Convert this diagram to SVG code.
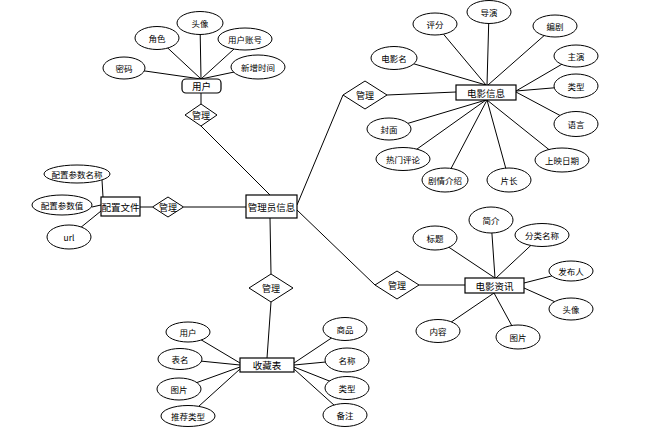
<svg xmlns="http://www.w3.org/2000/svg" width="657" height="436" viewBox="0 0 657 436">
<style>
  line { stroke: #000; stroke-width: 1; }
  .attr { fill: #fff; stroke: #000; stroke-width: 1; }
  .ent { fill: #fff; stroke: #000; stroke-width: 1.2; }
  .rel { fill: #fff; stroke: #000; stroke-width: 1; }
  text { font-family: "Noto Sans CJK SC", "Noto Sans", sans-serif; fill: #000; text-anchor: middle; dominant-baseline: central; }
  .ta { font-size: 8.5px; }
  .te { font-size: 9.5px; }
  .tr { font-size: 9px; }
</style>
<rect width="657" height="436" fill="#fff"/>
<g id="connectors">
  <!-- 用户 -->
  <line x1="124" y1="68" x2="201" y2="79"/>
  <line x1="157" y1="38" x2="201" y2="79"/>
  <line x1="200" y1="23" x2="201" y2="79"/>
  <line x1="245" y1="39" x2="201" y2="79"/>
  <line x1="258" y1="67" x2="201" y2="79"/>
  <line x1="201" y1="93" x2="201" y2="104"/>
  <line x1="201" y1="126" x2="270" y2="195"/>
  <!-- 配置文件 -->
  <line x1="102" y1="180" x2="103" y2="197"/>
  <line x1="92" y1="207" x2="101" y2="205"/>
  <line x1="69" y1="237" x2="101" y2="211"/>
  <line x1="140" y1="207" x2="152.5" y2="207"/>
  <line x1="183.5" y1="207" x2="246" y2="207"/>
  <!-- 电影信息 -->
  <line x1="297" y1="205" x2="343" y2="95"/>
  <line x1="387" y1="95" x2="456" y2="92"/>
  <line x1="394" y1="58" x2="486" y2="85"/>
  <line x1="435" y1="24" x2="486" y2="85"/>
  <line x1="489" y1="12" x2="487" y2="85"/>
  <line x1="555" y1="26" x2="488" y2="85"/>
  <line x1="576" y1="56" x2="516" y2="91"/>
  <line x1="576" y1="86" x2="516" y2="91"/>
  <line x1="576" y1="124" x2="516" y2="92"/>
  <line x1="389" y1="129" x2="486" y2="100"/>
  <line x1="403" y1="159" x2="486" y2="100"/>
  <line x1="445" y1="180" x2="487" y2="100"/>
  <line x1="509" y1="180" x2="487" y2="100"/>
  <line x1="562" y1="160" x2="487" y2="100"/>
  <!-- 电影资讯 -->
  <line x1="297" y1="210" x2="375" y2="285"/>
  <line x1="419" y1="285" x2="465" y2="285"/>
  <line x1="435" y1="238" x2="495" y2="278"/>
  <line x1="491" y1="220" x2="495" y2="278"/>
  <line x1="542" y1="235" x2="496" y2="278"/>
  <line x1="571" y1="271" x2="524" y2="283"/>
  <line x1="571" y1="309" x2="524" y2="288"/>
  <line x1="438" y1="331" x2="494" y2="293"/>
  <line x1="518" y1="337" x2="494" y2="293"/>
  <!-- 收藏表 -->
  <line x1="270" y1="218" x2="271" y2="274"/>
  <line x1="271" y1="302" x2="267" y2="358"/>
  <line x1="188" y1="332" x2="240" y2="363"/>
  <line x1="180" y1="359" x2="240" y2="365"/>
  <line x1="179" y1="389" x2="240" y2="367"/>
  <line x1="188" y1="416" x2="240" y2="369"/>
  <line x1="345" y1="329" x2="294" y2="363"/>
  <line x1="347" y1="360" x2="294" y2="365"/>
  <line x1="347" y1="388" x2="294" y2="367"/>
  <line x1="345" y1="415" x2="294" y2="369"/>
</g>

<!-- 用户 entity and attributes -->
<g id="user">
  <rect class="ent" x="182" y="79" width="39" height="14" rx="4"/>
  <text class="te" x="201.5" y="86">用户</text>
</g>
<g id="user-pwd"><ellipse class="attr" cx="124" cy="68" rx="21" ry="11"/><text class="ta" x="124" y="68">密码</text></g>
<g id="user-role"><ellipse class="attr" cx="157" cy="38" rx="22" ry="11.5"/><text class="ta" x="157" y="38">角色</text></g>
<g id="user-avatar"><ellipse class="attr" cx="200" cy="23" rx="23" ry="11.5"/><text class="ta" x="200" y="23">头像</text></g>
<g id="user-account"><ellipse class="attr" cx="245" cy="39" rx="27" ry="11"/><text class="ta" x="245" y="39">用户账号</text></g>
<g id="user-time"><ellipse class="attr" cx="258" cy="67" rx="27" ry="12"/><text class="ta" x="258" y="67">新增时间</text></g>
<g id="rel-user"><polygon class="rel" points="201,104 217,115 201,126 185,115"/><text class="tr" x="201" y="115">管理</text></g>

<!-- 配置文件 -->
<g id="config">
  <rect class="ent" x="101" y="197" width="39" height="19"/>
  <text class="te" x="120.5" y="206.5">配置文件</text>
</g>
<g id="config-name"><ellipse class="attr" cx="77" cy="174" rx="33" ry="9"/><text class="ta" x="77" y="174">配置参数名称</text></g>
<g id="config-value"><ellipse class="attr" cx="62" cy="205" rx="30" ry="10"/><text class="ta" x="62" y="205">配置参数值</text></g>
<g id="config-url"><ellipse class="attr" cx="69" cy="237" rx="22" ry="12"/><text class="ta" x="69" y="237">url</text></g>
<g id="rel-config"><polygon class="rel" points="168,197 183.5,207 168,217 152.5,207"/><text class="tr" x="168" y="207">管理</text></g>

<!-- 管理员信息 -->
<g id="admin">
  <rect class="ent" x="246" y="195" width="51" height="23"/>
  <text class="te" x="271.5" y="206.5">管理员信息</text>
</g>

<!-- 电影信息 -->
<g id="movie">
  <rect class="ent" x="456" y="85" width="60" height="15"/>
  <text class="te" x="486" y="92.5">电影信息</text>
</g>
<g id="rel-movie"><polygon class="rel" points="365,81 387,95 365,109 343,95"/><text class="tr" x="365" y="95">管理</text></g>
<g id="movie-name"><ellipse class="attr" cx="394" cy="58" rx="23" ry="11.5"/><text class="ta" x="394" y="58">电影名</text></g>
<g id="movie-score"><ellipse class="attr" cx="435" cy="24" rx="22" ry="11"/><text class="ta" x="435" y="24">评分</text></g>
<g id="movie-director"><ellipse class="attr" cx="489" cy="12" rx="22" ry="11.5"/><text class="ta" x="489" y="12">导演</text></g>
<g id="movie-writer"><ellipse class="attr" cx="555" cy="26" rx="22" ry="11"/><text class="ta" x="555" y="26">编剧</text></g>
<g id="movie-star"><ellipse class="attr" cx="576" cy="56" rx="22" ry="11"/><text class="ta" x="576" y="56">主演</text></g>
<g id="movie-type"><ellipse class="attr" cx="576" cy="86" rx="22" ry="12"/><text class="ta" x="576" y="86">类型</text></g>
<g id="movie-lang"><ellipse class="attr" cx="576" cy="124" rx="22" ry="12.5"/><text class="ta" x="576" y="124">语言</text></g>
<g id="movie-cover"><ellipse class="attr" cx="389" cy="129" rx="22" ry="11"/><text class="ta" x="389" y="129">封面</text></g>
<g id="movie-hot"><ellipse class="attr" cx="403" cy="159" rx="27" ry="11.5"/><text class="ta" x="403" y="159">热门评论</text></g>
<g id="movie-plot"><ellipse class="attr" cx="445" cy="180" rx="23" ry="12"/><text class="ta" x="445" y="180">剧情介绍</text></g>
<g id="movie-length"><ellipse class="attr" cx="509" cy="180" rx="22" ry="12"/><text class="ta" x="509" y="180">片长</text></g>
<g id="movie-date"><ellipse class="attr" cx="562" cy="160" rx="27" ry="12"/><text class="ta" x="562" y="160">上映日期</text></g>

<!-- 电影资讯 -->
<g id="news">
  <rect class="ent" x="465" y="278" width="59" height="15"/>
  <text class="te" x="494.5" y="285.5">电影资讯</text>
</g>
<g id="rel-news"><polygon class="rel" points="397,271 419,285 397,299 375,285"/><text class="tr" x="397" y="285">管理</text></g>
<g id="news-title"><ellipse class="attr" cx="435" cy="238" rx="22" ry="12"/><text class="ta" x="435" y="238">标题</text></g>
<g id="news-intro"><ellipse class="attr" cx="491" cy="220" rx="22" ry="13"/><text class="ta" x="491" y="220">简介</text></g>
<g id="news-cat"><ellipse class="attr" cx="542" cy="235" rx="27" ry="11.5"/><text class="ta" x="542" y="235">分类名称</text></g>
<g id="news-pub"><ellipse class="attr" cx="571" cy="271" rx="22" ry="10"/><text class="ta" x="571" y="271">发布人</text></g>
<g id="news-avatar"><ellipse class="attr" cx="571" cy="309" rx="22" ry="11"/><text class="ta" x="571" y="309">头像</text></g>
<g id="news-content"><ellipse class="attr" cx="438" cy="331" rx="22" ry="11.5"/><text class="ta" x="438" y="331">内容</text></g>
<g id="news-pic"><ellipse class="attr" cx="518" cy="337" rx="22" ry="12"/><text class="ta" x="518" y="337">图片</text></g>

<!-- 收藏表 -->
<g id="fav">
  <rect class="ent" x="240" y="358" width="54" height="14"/>
  <text class="te" x="267" y="365">收藏表</text>
</g>
<g id="rel-fav"><polygon class="rel" points="271,274 293,288 271,302 249,288"/><text class="tr" x="271" y="288">管理</text></g>
<g id="fav-user"><ellipse class="attr" cx="188" cy="332" rx="22" ry="10"/><text class="ta" x="188" y="332">用户</text></g>
<g id="fav-table"><ellipse class="attr" cx="180" cy="359" rx="22" ry="10.5"/><text class="ta" x="180" y="359">表名</text></g>
<g id="fav-pic"><ellipse class="attr" cx="179" cy="389" rx="22" ry="11"/><text class="ta" x="179" y="389">图片</text></g>
<g id="fav-rec"><ellipse class="attr" cx="188" cy="416" rx="27" ry="10.5"/><text class="ta" x="188" y="416">推荐类型</text></g>
<g id="fav-goods"><ellipse class="attr" cx="345" cy="329" rx="22" ry="11.5"/><text class="ta" x="345" y="329">商品</text></g>
<g id="fav-name"><ellipse class="attr" cx="347" cy="360" rx="22" ry="12"/><text class="ta" x="347" y="360">名称</text></g>
<g id="fav-type"><ellipse class="attr" cx="347" cy="388" rx="22" ry="11.5"/><text class="ta" x="347" y="388">类型</text></g>
<g id="fav-note"><ellipse class="attr" cx="345" cy="415" rx="22" ry="11.5"/><text class="ta" x="345" y="415">备注</text></g>
</svg>
